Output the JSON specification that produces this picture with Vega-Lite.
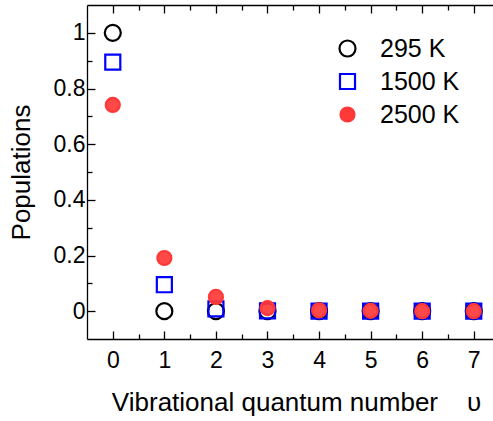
{
  "$schema": "https://vega.github.io/schema/vega-lite/v6.json",
  "width": 406,
  "height": 334,
  "autosize": "none",
  "padding": {"left": 87, "top": 5, "right": 0, "bottom": 82},
  "background": "white",
  "data": {
    "values": [
      {"v": 0, "T": "295 K", "p": 1.0},
      {"v": 1, "T": "295 K", "p": 0.0},
      {"v": 2, "T": "295 K", "p": 0.0},
      {"v": 3, "T": "295 K", "p": 0.0},
      {"v": 4, "T": "295 K", "p": 0.0},
      {"v": 5, "T": "295 K", "p": 0.0},
      {"v": 6, "T": "295 K", "p": 0.0},
      {"v": 7, "T": "295 K", "p": 0.0},
      {"v": 0, "T": "1500 K", "p": 0.895},
      {"v": 1, "T": "1500 K", "p": 0.095},
      {"v": 2, "T": "1500 K", "p": 0.008},
      {"v": 3, "T": "1500 K", "p": 0.001},
      {"v": 4, "T": "1500 K", "p": 0.0},
      {"v": 5, "T": "1500 K", "p": 0.0},
      {"v": 6, "T": "1500 K", "p": 0.0},
      {"v": 7, "T": "1500 K", "p": 0.0},
      {"v": 0, "T": "2500 K", "p": 0.741},
      {"v": 1, "T": "2500 K", "p": 0.191},
      {"v": 2, "T": "2500 K", "p": 0.051},
      {"v": 3, "T": "2500 K", "p": 0.011},
      {"v": 4, "T": "2500 K", "p": 0.003},
      {"v": 5, "T": "2500 K", "p": 0.001},
      {"v": 6, "T": "2500 K", "p": 0.0},
      {"v": 7, "T": "2500 K", "p": 0.0}
    ]
  },
  "layer": [
    {
      "mark": {"type": "point", "strokeWidth": 2.2, "opacity": 1, "fillOpacity": 0.92},
      "encoding": {
        "x": {
          "field": "v", "type": "quantitative",
          "scale": {"domain": [-0.5, 7.373], "nice": false, "zero": false},
          "axis": {
            "orient": "bottom", "values": [0, 1, 2, 3, 4, 5, 6, 7], "tickSize": -8,
            "labelPadding": 18, "title": "Vibrational quantum number\u00a0\u00a0\u00a0\u00a0υ",
            "titlePadding": 17, "titleX": 209, "labelFlush": false, "labelOverlap": false
          }
        },
        "y": {
          "field": "p", "type": "quantitative",
          "scale": {"domain": [-0.1, 1.1], "nice": false, "zero": false},
          "axis": {
            "orient": "left", "values": [0, 0.2, 0.4, 0.6, 0.8, 1], "tickSize": -8, "format": "~g",
            "labelPadding": 10, "title": "Populations", "titlePadding": 19,
            "labelFlush": false, "labelOverlap": false
          }
        },
        "shape": {
          "field": "T", "type": "nominal",
          "scale": {"domain": ["295 K", "1500 K", "2500 K"], "range": ["circle", "square", "circle"]},
          "legend": {
            "title": null, "orient": "none", "legendX": 248, "legendY": 31,
            "labelFontSize": 25, "labelFont": "Liberation Sans", "labelColor": "black",
            "labelOffset": 20, "rowPadding": 7, "padding": 0, "symbolStrokeWidth": 2.2
          }
        },
        "stroke": {
          "field": "T", "type": "nominal",
          "scale": {"domain": ["295 K", "1500 K", "2500 K"], "range": ["#000000", "#0000ff", "#ff3838"]},
          "legend": {
            "title": null, "orient": "none", "legendX": 248, "legendY": 31,
            "labelFontSize": 25, "labelFont": "Liberation Sans", "labelColor": "black",
            "labelOffset": 20, "rowPadding": 7, "padding": 0, "symbolStrokeWidth": 2.2
          }
        },
        "fill": {
          "field": "T", "type": "nominal",
          "scale": {"domain": ["295 K", "1500 K", "2500 K"], "range": ["transparent", "transparent", "#ff3838"]},
          "legend": {
            "title": null, "orient": "none", "legendX": 248, "legendY": 31,
            "labelFontSize": 25, "labelFont": "Liberation Sans", "labelColor": "black",
            "labelOffset": 20, "rowPadding": 7, "padding": 0, "symbolStrokeWidth": 2.2
          }
        },
        "size": {
          "field": "T", "type": "nominal",
          "scale": {"domain": ["295 K", "1500 K", "2500 K"], "range": [256, 196, 370]},
          "legend": {
            "title": null, "orient": "none", "legendX": 248, "legendY": 31,
            "labelFontSize": 25, "labelFont": "Liberation Sans", "labelColor": "black",
            "labelOffset": 20, "rowPadding": 7, "padding": 0, "symbolStrokeWidth": 2.2
          }
        }
      }
    },
    {
      "mark": {"type": "point", "opacity": 0},
      "encoding": {
        "x": {
          "field": "v", "type": "quantitative",
          "axis": {"orient": "top", "values": [0, 1, 2, 3, 4, 5, 6, 7], "tickSize": -8, "labels": false, "title": null}
        },
        "y": {
          "field": "p", "type": "quantitative",
          "axis": {"orient": "left", "values": [0.1, 0.3, 0.5, 0.7, 0.9], "tickSize": -5, "labels": false, "domain": false, "title": null}
        }
      }
    },
    {
      "mark": {"type": "point", "opacity": 0},
      "encoding": {
        "x": {
          "field": "v", "type": "quantitative",
          "axis": {"orient": "bottom", "values": [0.5, 1.5, 2.5, 3.5, 4.5, 5.5, 6.5], "tickSize": -5, "labels": false, "domain": false, "title": null}
        },
        "y": {"field": "p", "type": "quantitative", "axis": null}
      }
    },
    {
      "mark": {"type": "point", "opacity": 0},
      "encoding": {
        "x": {
          "field": "v", "type": "quantitative",
          "axis": {"orient": "top", "values": [0.5, 1.5, 2.5, 3.5, 4.5, 5.5, 6.5], "tickSize": -5, "labels": false, "domain": false, "title": null}
        },
        "y": {"field": "p", "type": "quantitative", "axis": null}
      }
    }
  ],
  "resolve": {"axis": {"x": "independent", "y": "independent"}},
  "config": {
    "view": {"stroke": null},
    "axis": {
      "grid": false,
      "labelFont": "Liberation Sans", "labelFontSize": 23, "labelColor": "black",
      "titleFont": "Liberation Sans", "titleFontSize": 26, "titleColor": "black", "titleFontWeight": "normal",
      "domainColor": "black", "domainWidth": 1.3, "tickColor": "black", "tickWidth": 1.3
    }
  }
}
